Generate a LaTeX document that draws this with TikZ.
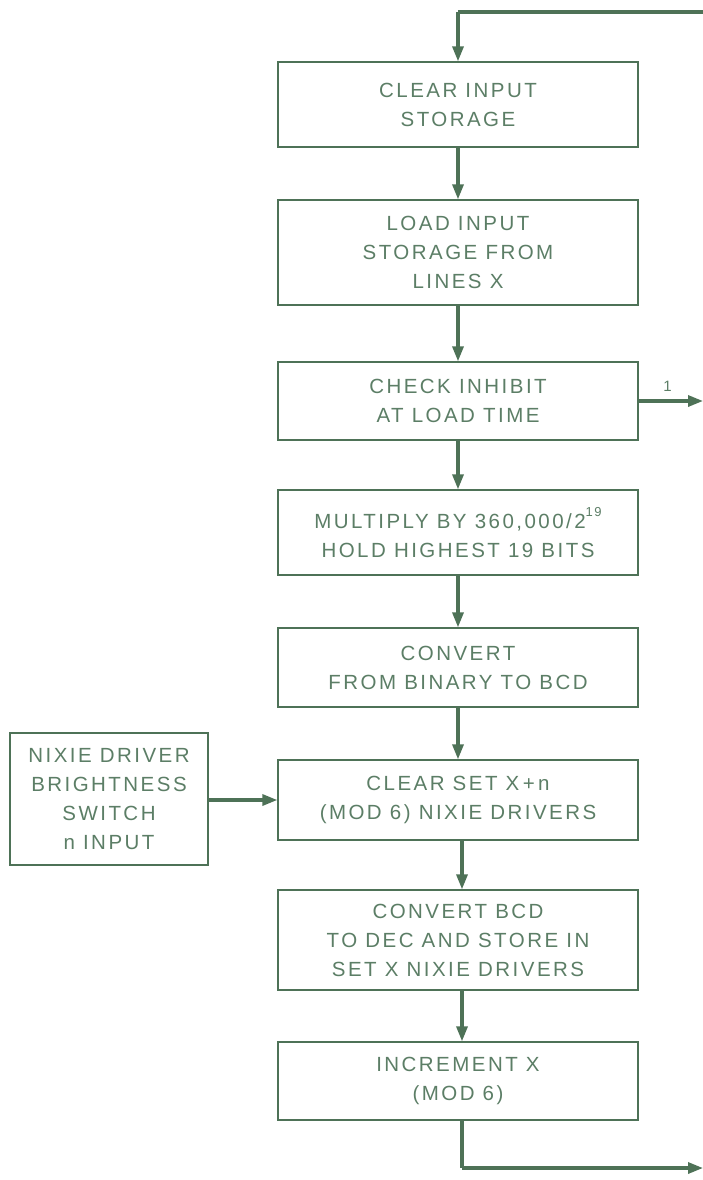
\documentclass[tikz,border=0pt]{standalone}
\usepackage{fontspec}
\newfontfamily\labfont[LetterSpace=12]{Liberation Sans}
\usetikzlibrary{arrows.meta}
\definecolor{ink}{HTML}{4E7257}
\definecolor{txt}{HTML}{5C7E66}
\tikzset{
  blk/.style={draw=ink, line width=1.3pt, fill=white, minimum width=360pt, align=center,
    text=txt, font=\labfont\fontsize{20.5pt}{29pt}\selectfont, inner sep=0pt},
  flow/.style={draw=ink, line width=3.2pt, -{Triangle[length=15pt,width=11pt]}},
  plain/.style={draw=ink, line width=3.2pt}
}
\begin{document}
\begin{tikzpicture}[x=1pt,y=-1pt]
\useasboundingbox (0,0) rectangle (703,1180);
\node[blk, minimum height=85pt] (b1) at (458,104.5) {CLEAR INPUT\\STORAGE};
\node[blk, minimum height=105pt] (b2) at (458,252.5) {LOAD INPUT\\STORAGE FROM\\LINES X};
\node[blk, minimum height=78pt] (b3) at (458,401) {CHECK INHIBIT\\AT LOAD TIME};
\node[blk, minimum height=85pt] (b4) at (458,532.5) {MULTIPLY BY 360,000/2\raisebox{0.55em}{\fontsize{13pt}{13pt}\selectfont 19}\\HOLD HIGHEST 19 BITS};
\node[blk, minimum height=79pt] (b5) at (458,667.5) {CONVERT\\FROM BINARY TO BCD};
\node[blk, minimum height=80pt] (b6) at (458,800) {CLEAR SET X\,+\,n\\(MOD 6) NIXIE DRIVERS};
\node[blk, minimum height=100pt] (b7) at (458,940) {CONVERT BCD\\TO DEC AND STORE IN\\SET X NIXIE DRIVERS};
\node[blk, minimum height=78pt] (b8) at (458,1081) {INCREMENT X\\(MOD 6)};
\node[blk, minimum width=198pt, minimum height=132pt] (nx) at (109,799) {NIXIE DRIVER\\BRIGHTNESS\\SWITCH\\n INPUT};
\coordinate (tr) at (703,12);
\coordinate (tl) at (458,12);
\coordinate (br) at (703,1168);
\coordinate (bl) at (462,1168);
\coordinate (ir) at (703,401);
\draw[plain] (tr) -- (tl);
\draw[flow] (tl) -- (b1.north);
\draw[flow] (b1) -- (b2);
\draw[flow] (b2) -- (b3);
\draw[flow] (b3) -- (b4);
\draw[flow] (b4) -- (b5);
\draw[flow] (b5) -- (b6);
\draw[flow] (b6.south -| bl) -- (b7.north -| bl);
\draw[flow] (b7.south -| bl) -- (b8.north -| bl);
\draw[plain] (b8.south -| bl) -- (bl);
\draw[flow] (bl) -- (br);
\draw[flow] (b3.east) -- (ir) node[pos=0.45, above=5pt, text=txt, font=\labfont\fontsize{15pt}{15pt}\selectfont] (one) {1};
\draw[flow] (nx.east |- b6.west) -- (b6.west);
\end{tikzpicture}
\end{document}
